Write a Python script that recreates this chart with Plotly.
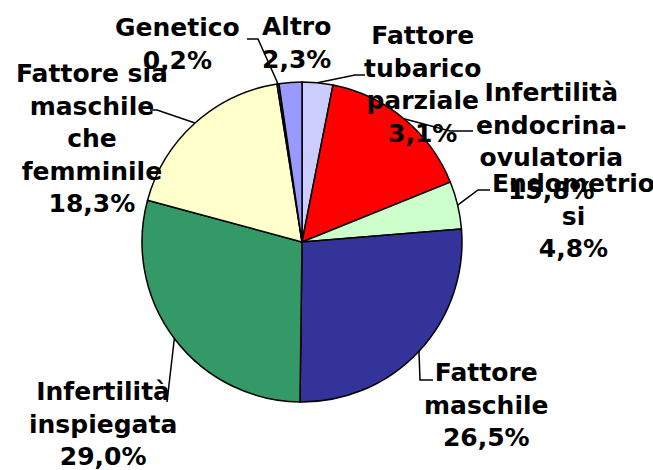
import math
import plotly.graph_objects as go

# ---- data ----
categories = [
    "Fattore tubarico parziale",
    "Infertilità endocrina-ovulatoria",
    "Endometriosi",
    "Fattore maschile",
    "Infertilità inspiegata",
    "Fattore sia maschile che femminile",
    "Genetico",
    "Altro",
]
values = [3.1, 15.8, 4.8, 26.5, 29.0, 18.3, 0.2, 2.3]

# ---- styling / layout ----
colors = ["#CCCCFF", "#FF0000", "#CCFFCC", "#333399", "#339966", "#FFFFCC", "#993366", "#9999FF"]
display_names = [
    "Fattore<br>tubarico<br>parziale",
    "Infertilità<br>endocrina-<br>ovulatoria",
    "Endometrio<br>si",
    "Fattore<br>maschile",
    "Infertilità<br>inspiegata",
    "Fattore sia<br>maschile<br>che<br>femminile",
    "Genetico",
    "Altro",
]
W, H = 653, 470
CX, CY, R = 302, 242, 160
# label block centres (pixels)
label_pos = [(422, 84), (551, 141), (573, 216), (487, 405), (103, 424), (92, 138), (178, 44), (296, 43)]
# leader line bends/ends (pixels) for each slice (None = no line)
leaders = [
    [(355, 75), (365, 75)],
    [(450, 131), (473, 131)],
    [(478, 190), (490, 190)],
    [(420, 380), (433, 380)],
    [(167, 402)],
    [(157, 110), (150, 110)],
    [(258, 39), (247, 39)],
    None,
]


def px(x, y):
    return x / W, 1 - y / H


dom_x = [(CX - R) / W, (CX + R) / W]
dom_y = [1 - (CY + R) / H, 1 - (CY - R) / H]

fig = go.Figure(
    go.Pie(
        labels=categories,
        values=values,
        sort=False,
        direction="clockwise",
        rotation=0,
        textinfo="none",
        hoverinfo="label+percent",
        marker=dict(colors=colors, line=dict(color="black", width=1.5)),
        domain=dict(x=dom_x, y=dom_y),
        showlegend=False,
    )
)

total = sum(values)
cum = 0.0
shapes = []
annotations = []
for i, v in enumerate(values):
    theta = 2 * math.pi * (cum + v / 2) / total
    cum += v
    ex = CX + R * math.sin(theta)
    ey = CY - R * math.cos(theta)
    if leaders[i]:
        pts = [(ex, ey)] + leaders[i]
        path = ""
        for k, (x, y) in enumerate(pts):
            u, w = px(x, y)
            path += ("M" if k == 0 else " L") + f" {u:.5f},{w:.5f}"
        shapes.append(dict(type="path", xref="paper", yref="paper", path=path,
                           line=dict(color="black", width=1.5)))
    pct = f"{v / total * 100:.1f}".replace(".", ",") + "%"
    lx, ly = px(*label_pos[i])
    annotations.append(dict(
        x=lx, y=ly, xref="paper", yref="paper", xanchor="center", yanchor="middle",
        text=f"<b>{display_names[i]}<br>{pct}</b>", showarrow=False, align="center",
        font=dict(family="DejaVu Sans", size=25, color="black"),
    ))

fig.update_layout(
    width=W, height=H,
    margin=dict(l=0, r=0, t=0, b=0),
    paper_bgcolor="white", plot_bgcolor="white",
    shapes=shapes, annotations=annotations,
)

fig.write_html("out.html", config={"displayModeBar": False},
               post_script="document.body.style.margin='0px';")
